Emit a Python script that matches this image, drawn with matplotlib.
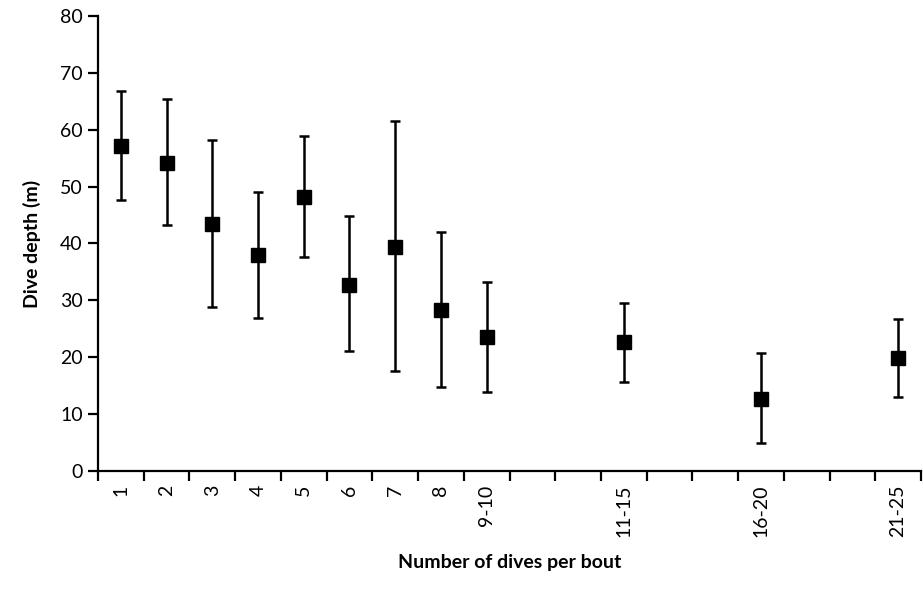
#!/usr/bin/env python3
""" dive depth vs number of dives per bout
"""
import numpy as np
import matplotlib.pyplot as plt

plt.rcParams['font.family'] = ['Lato', 'DejaVu Sans']

categories = ['1', '2', '3', '4', '5', '6', '7', '8', '9-10',
              '', '', '11-15', '', '', '16-20', '', '', '21-25']
labels = ['1', '2', '3', '4', '5', '6', '7', '8', '9-10', '11-15', '16-20', '21-25']
depth = [57.2, 54.1, 43.4, 37.9, 48.2, 32.7, 39.3, 28.3, 23.5, 22.7, 12.7, 19.8]
upper = [66.9, 65.4, 58.2, 49.0, 59.0, 44.8, 61.5, 42.0, 33.2, 29.6, 20.8, 26.7]
lower = [47.6, 43.2, 28.9, 26.8, 37.6, 21.0, 17.5, 14.8, 13.9, 15.7, 4.8, 12.9]


def plot():
    fig = plt.figure(figsize=(9.23, 5.94), dpi=100)
    ax = fig.add_axes([98 / 923, 1 - 470.7 / 594, 823 / 923, (470.7 - 16.3) / 594])

    x = np.array([categories.index(l) for l in labels])
    d = np.array(depth)
    yerr = [d - np.array(lower), np.array(upper) - d]
    ax.errorbar(x, d, yerr=yerr, fmt='s', color='black', ecolor='black',
                markersize=9.5, elinewidth=1.8, capsize=3.5, capthick=1.8)

    ax.set_xlim(-0.5, len(categories) - 0.5)
    ax.set_ylim(0, 80)
    ax.set_yticks(np.arange(0, 81, 10))
    ax.set_xticks(x)
    ax.set_xticklabels(labels, rotation=90, fontsize=14)
    ax.set_xticks(np.arange(-0.5, len(categories), 1), minor=True)
    ax.tick_params(axis='x', which='major', length=0, pad=10)
    ax.tick_params(axis='x', which='minor', length=7, width=1.6)
    ax.tick_params(axis='y', length=7, width=1.6, labelsize=14, pad=4)

    for side in ['top', 'right']:
        ax.spines[side].set_visible(False)
    for side in ['left', 'bottom']:
        ax.spines[side].set_linewidth(1.6)

    ax.set_ylabel('Dive depth (m)', fontsize=14, fontweight='bold', labelpad=14)
    ax.set_xlabel('Number of dives per bout', fontsize=14, fontweight='bold', labelpad=12)

    plt.savefig('out.png', dpi=100)


plot()
